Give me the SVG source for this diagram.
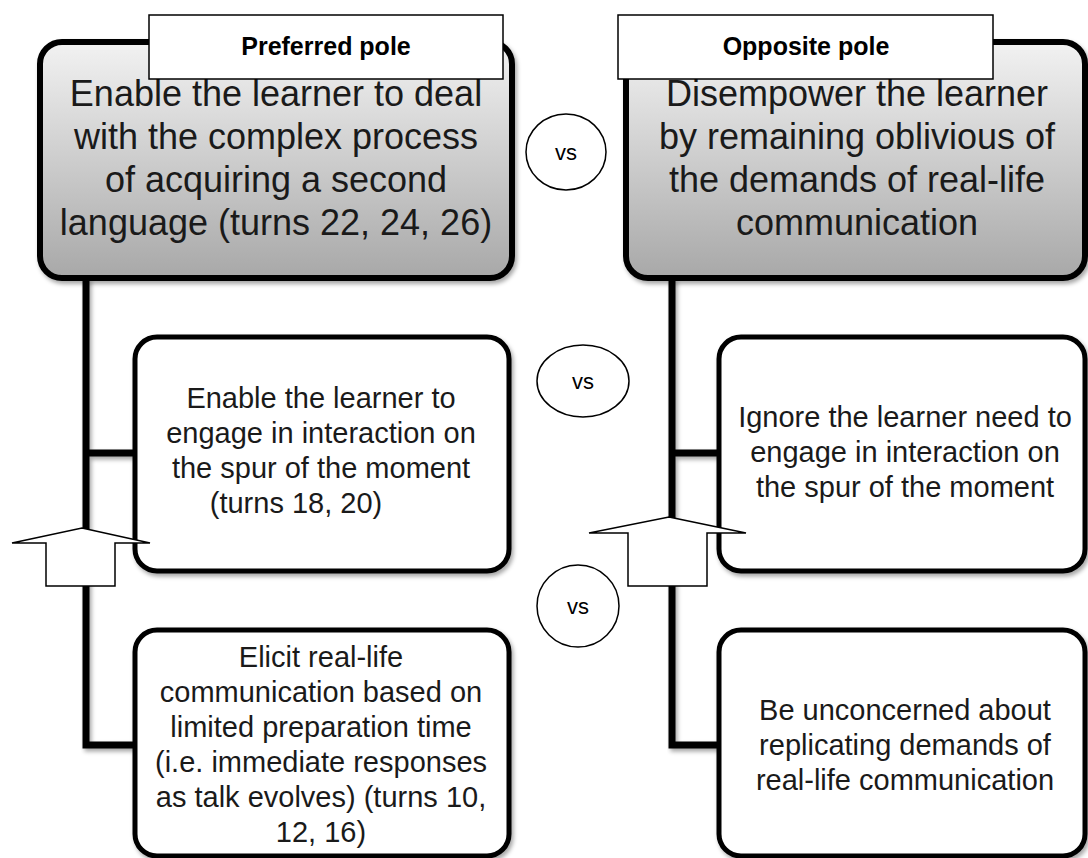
<svg xmlns="http://www.w3.org/2000/svg" width="1088" height="858" viewBox="0 0 1088 858">
  <defs>
    <linearGradient id="gray" x1="0" y1="0" x2="0" y2="1">
      <stop offset="0" stop-color="#f2f2f2"/>
      <stop offset="1" stop-color="#a8a8a8"/>
    </linearGradient>
    <filter id="sh" x="-10%" y="-10%" width="120%" height="120%">
      <feDropShadow dx="2" dy="3" stdDeviation="2" flood-color="#000" flood-opacity="0.35"/>
    </filter>
    <style>
      .main { fill: url(#gray); stroke: #000; stroke-width: 6; filter: url(#sh); }
      .sub { fill: #fff; stroke: #000; stroke-width: 5; filter: url(#sh); }
      .lab { fill: #fff; stroke: #000; stroke-width: 1.5; }
      .conn { fill: none; stroke: #000; stroke-width: 7; stroke-linejoin: miter; filter: url(#sh); }
      .vs { fill: #fff; stroke: #000; stroke-width: 1.5; }
      .arrow { fill: #fff; stroke: #000; stroke-width: 1.5; stroke-linejoin: miter; }
      text { font-family: "Liberation Sans", Arial, sans-serif; fill: #1a1a1a; text-anchor: middle; }
      .big { font-size: 36px; }
      .mid { font-size: 29px; }
      .lbl { font-size: 25px; font-weight: bold; fill: #000; }
      .vst { font-size: 22px; fill: #000; }
    </style>
  </defs>

  <g id="connectors">
    <path class="conn" d="M86,278 V745 H135 M86,453 H135"/>
    <path class="conn" d="M672,278 V745 H719 M672,453 H719"/>
  </g>

  <g id="preferred-main">
    <rect class="main" x="40" y="42" width="472" height="236" rx="22"/>
    <text class="big" x="276" y="106">Enable the learner to deal</text>
    <text class="big" x="276" y="149">with the complex process</text>
    <text class="big" x="276" y="192">of acquiring a second</text>
    <text class="big" x="276" y="235">language (turns 22, 24, 26)</text>
  </g>
  <g id="preferred-label">
    <rect class="lab" x="149" y="15" width="354" height="64"/>
    <text class="lbl" x="326" y="55">Preferred pole</text>
  </g>

  <g id="opposite-main">
    <rect class="main" x="626" y="42" width="459" height="236" rx="22"/>
    <text class="big" x="857" y="106">Disempower the learner</text>
    <text class="big" x="857" y="149">by remaining oblivious of</text>
    <text class="big" x="857" y="192">the demands of real-life</text>
    <text class="big" x="857" y="235">communication</text>
  </g>
  <g id="opposite-label">
    <rect class="lab" x="618" y="15" width="375" height="64"/>
    <text class="lbl" x="806" y="55">Opposite pole</text>
  </g>

  <g id="vs1">
    <ellipse class="vs" cx="566" cy="152" rx="40" ry="38"/>
    <text class="vst" x="566" y="160">vs</text>
  </g>

  <g id="preferred-mid">
    <rect class="sub" x="135" y="337" width="374" height="234" rx="22"/>
    <text class="mid" x="321" y="408">Enable the learner to</text>
    <text class="mid" x="321" y="443">engage in interaction on</text>
    <text class="mid" x="321" y="478">the spur of the moment</text>
    <text class="mid" x="296" y="513">(turns 18, 20)</text>
  </g>

  <g id="vs2">
    <ellipse class="vs" cx="583" cy="381" rx="46" ry="36"/>
    <text class="vst" x="583" y="389">vs</text>
  </g>

  <g id="opposite-mid">
    <rect class="sub" x="719" y="337" width="366" height="234" rx="22"/>
    <text class="mid" x="905" y="427">Ignore the learner need to</text>
    <text class="mid" x="905" y="462">engage in interaction on</text>
    <text class="mid" x="905" y="497">the spur of the moment</text>
  </g>

  <g id="vs3">
    <ellipse class="vs" cx="578" cy="606" rx="41" ry="41"/>
    <text class="vst" x="578" y="614">vs</text>
  </g>

  <g id="preferred-bottom">
    <rect class="sub" x="135" y="630" width="374" height="226" rx="22"/>
    <text class="mid" x="321" y="667">Elicit real-life</text>
    <text class="mid" x="321" y="702">communication based on</text>
    <text class="mid" x="321" y="737">limited preparation time</text>
    <text class="mid" x="321" y="772">(i.e. immediate responses</text>
    <text class="mid" x="321" y="807">as talk evolves) (turns 10,</text>
    <text class="mid" x="321" y="842">12, 16)</text>
  </g>

  <g id="opposite-bottom">
    <rect class="sub" x="719" y="630" width="366" height="226" rx="22"/>
    <text class="mid" x="905" y="720">Be unconcerned about</text>
    <text class="mid" x="905" y="755">replicating demands of</text>
    <text class="mid" x="905" y="790">real-life communication</text>
  </g>

  <g id="arrow-left">
    <polygon class="arrow" points="82,528 150,543 115,543 115,586 46,586 46,543 12,543"/>
  </g>
  <g id="arrow-right">
    <polygon class="arrow" points="669,517 746,533 707,533 707,586 628,586 628,533 589,533"/>
  </g>
</svg>
